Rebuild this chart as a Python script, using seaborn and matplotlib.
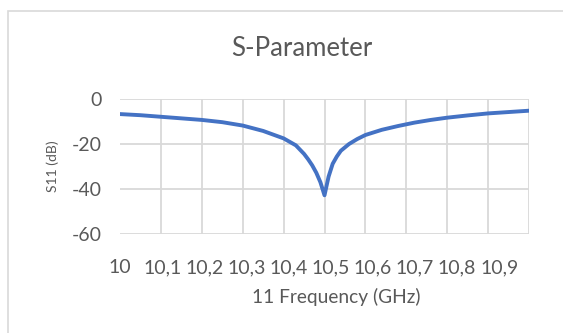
import pandas as pd
import matplotlib
matplotlib.use("Agg")
import matplotlib.pyplot as plt
import seaborn as sns
from matplotlib.patches import Rectangle

# ---------------------------
# Data
# ---------------------------
freq_ghz = [10.00, 10.05, 10.10, 10.15, 10.20, 10.25, 10.30, 10.35, 10.40, 10.43,
            10.45, 10.46, 10.47, 10.48, 10.49, 10.50, 10.51, 10.52, 10.53, 10.54,
            10.56, 10.58, 10.60, 10.64, 10.68, 10.72, 10.76, 10.80, 10.85, 10.90,
            10.95, 11.00]
s11_db = [-6.7, -7.2, -7.9, -8.6, -9.3, -10.3, -11.8, -14.2, -17.5, -20.6,
          -24.4, -26.8, -29.5, -32.8, -37.0, -42.8, -34.5, -28.8, -25.6, -23.0,
          -20.0, -17.8, -16.0, -13.7, -12.0, -10.5, -9.3, -8.3, -7.3, -6.4,
          -5.8, -5.2]
grid_x = [10.0, 10.1, 10.2, 10.3, 10.4, 10.5, 10.6, 10.7, 10.8, 10.9, 11.0]
x_tick_labels = ["10", "10,1", "10,2", "10,3", "10,4", "10,5", "10,6", "10,7", "10,8", "10,9"]
y_ticks = [0, -20, -40, -60]

df = pd.DataFrame({"freq": freq_ghz, "s11": s11_db})

# ---------------------------
# Style
# ---------------------------
sns.set_style("white")
plt.rcParams["font.family"] = ["Lato", "DejaVu Sans"]
text_grey = "#595959"
grid_grey = "#D9D9D9"

fig = plt.figure(figsize=(5.63, 3.33), dpi=100)
ax = fig.add_axes([120 / 563, 1 - 234 / 333, (529 - 120) / 563, (234 - 99) / 333])

sns.lineplot(data=df, x="freq", y="s11", ax=ax, color="#4472C4", linewidth=2.8)

ax.set_xlim(10, 11)
ax.set_ylim(-60, 0)

# gridlines on minor ticks, labels drift a little to the right like the office chart
ax.set_xticks(grid_x, minor=True)
label_pos = [10 + k * 0.103 for k in range(len(x_tick_labels))]
ax.set_xticks(label_pos)
ax.set_xticklabels(x_tick_labels)
ax.set_yticks(y_ticks)
ax.set_yticklabels([str(v) for v in y_ticks])
ax.grid(False, axis="x", which="major")
ax.grid(True, axis="x", which="minor", color=grid_grey, linewidth=1.3)
ax.grid(True, axis="y", which="major", color=grid_grey, linewidth=1.3)
ax.set_axisbelow(True)
for s in ax.spines.values():
    s.set_visible(False)
ax.tick_params(which="both", length=0)
ax.tick_params(labelsize=14, colors=text_grey)
ax.tick_params(axis="x", pad=18)
ax.tick_params(axis="y", pad=13)

ax.set_xlabel("")
ax.set_ylabel("S11 (dB)", fontsize=10, color=text_grey)
ax.yaxis.set_label_coords(-0.150, 0.5)
fig.text(336 / 563, 1 - 297 / 333, "11 Frequency (GHz)", ha="center", va="center",
         fontsize=13.8, color=text_grey)
fig.text(302 / 563, 1 - 48 / 333, "S-Parameter", ha="center", va="center",
         fontsize=18.5, color=text_grey)

# chart border like the office chart frame
fig.patches.append(Rectangle((8 / 563, -0.1), 1.2, 1 - 11 / 333 + 0.1,
                             transform=fig.transFigure, fill=False,
                             edgecolor="#D9D9D9", linewidth=1.2))

fig.savefig("out.png", dpi=100, facecolor="white")
